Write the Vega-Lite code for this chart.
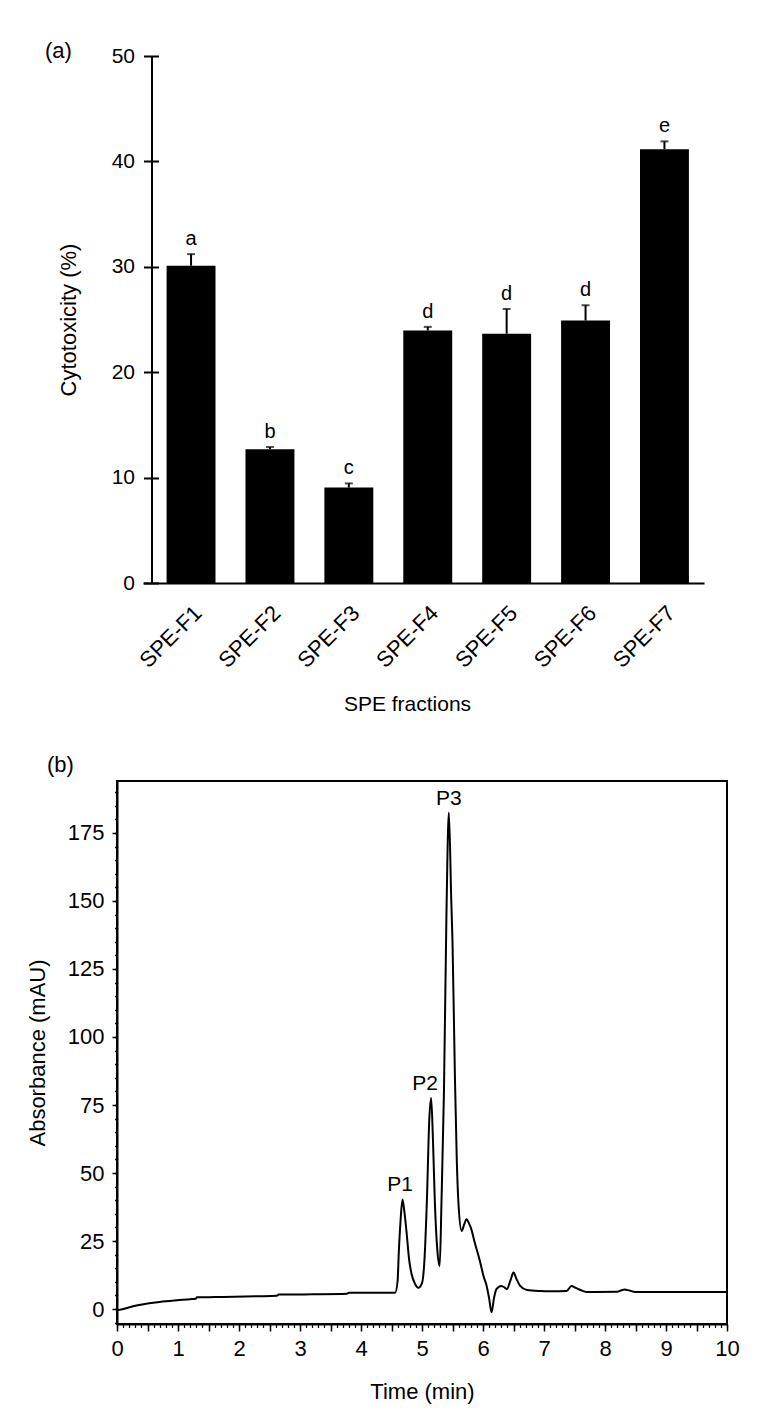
{
  "$schema": "https://vega.github.io/schema/vega-lite/v6.json",
  "padding": {"left": 25, "top": 40, "right": 5, "bottom": 5},
  "background": "white",
  "config": {
    "font": "Liberation Sans",
    "axis": {"labelColor": "black", "titleColor": "black", "domainColor": "black", "tickColor": "black", "grid": false, "labelFontWeight": "normal", "titleFontWeight": "normal"},
    "title": {"color": "black", "fontWeight": "normal"}
  },
  "spacing": 38,
  "vconcat": [
    {
      "width": 587,
      "height": 527,
      "view": {"stroke": null},
      "title": {"text": "(a)", "anchor": "start", "frame": "group", "dx": -72, "dy": 22, "fontSize": 22},
      "data": {"values": [
        {"fraction": "SPE-F1", "mean": 30.1, "high": 31.2, "letter": "a"},
        {"fraction": "SPE-F2", "mean": 12.7, "high": 12.9, "letter": "b"},
        {"fraction": "SPE-F3", "mean": 9.05, "high": 9.45, "letter": "c"},
        {"fraction": "SPE-F4", "mean": 23.95, "high": 24.3, "letter": "d"},
        {"fraction": "SPE-F5", "mean": 23.65, "high": 26.0, "letter": "d"},
        {"fraction": "SPE-F6", "mean": 24.9, "high": 26.35, "letter": "d"},
        {"fraction": "SPE-F7", "mean": 41.15, "high": 41.9, "letter": "e"}
      ]},
      "encoding": {
        "x": {"field": "fraction", "type": "nominal", "sort": null,
          "scale": {"range": [26, 587], "paddingInner": 0.38, "paddingOuter": 0.245, "align": 0.61}}
      },
      "layer": [
        {
          "mark": {"type": "bar", "color": "black"},
          "encoding": {
            "x": {"field": "fraction", "type": "nominal", "sort": null,
              "axis": {"labelAngle": -45, "labelAlign": "right", "labelBaseline": "top", "labelPadding": 19, "labelOffset": 0, "ticks": false, "domainWidth": 2, "labelFontSize": 22, "title": "SPE fractions", "titleFontSize": 21, "titlePadding": 22, "titleX": 290}},
            "y": {"field": "mean", "type": "quantitative", "scale": {"domain": [0, 50], "nice": false},
              "axis": {"orient": "left", "values": [0, 10, 20, 30, 40, 50], "offset": -34.5, "tickSize": 8, "tickWidth": 2, "domainWidth": 2, "labelFontSize": 21, "labelPadding": 9, "title": "Cytotoxicity (%)", "titleFontSize": 22, "titlePadding": 31, "labelFlush": false}}
          }
        },
        {
          "mark": {"type": "rule", "color": "black", "strokeWidth": 2},
          "encoding": {
            "y": {"field": "mean", "type": "quantitative",
              "axis": {"orient": "left", "values": [0, 10, 20, 30, 40, 50], "offset": -34.5, "tickSize": -7, "tickWidth": 2, "domain": false, "labels": false, "title": null}},
            "y2": {"field": "high"}
          }
        },
        {
          "mark": {"type": "tick", "color": "black", "thickness": 2, "size": 8, "orient": "horizontal"},
          "encoding": {"y": {"field": "high", "type": "quantitative", "axis": null}}
        },
        {
          "mark": {"type": "text", "color": "black", "fontSize": 20, "baseline": "alphabetic", "dy": -9},
          "encoding": {
            "y": {"field": "high", "type": "quantitative", "axis": null},
            "text": {"field": "letter"}
          }
        }
      ],
      "resolve": {"axis": {"y": "independent"}}
    },
    {
      "width": 610,
      "height": 543,
      "view": {"stroke": "black", "strokeWidth": 2},
      "title": {"text": "(b)", "anchor": "start", "frame": "group", "dx": -70, "fontSize": 22, "offset": 4},
      "layer": [
        {
          "data": {"values": [
            {"t": 0, "v": -0.5}, {"t": 0.15, "v": 0.3}, {"t": 0.32, "v": 1.3}, {"t": 0.5, "v": 2.0},
            {"t": 0.7, "v": 2.6}, {"t": 0.98, "v": 3.2}, {"t": 1.2, "v": 3.6}, {"t": 1.29, "v": 3.8},
            {"t": 1.31, "v": 4.3}, {"t": 1.6, "v": 4.4}, {"t": 1.92, "v": 4.5}, {"t": 2.3, "v": 4.7},
            {"t": 2.62, "v": 4.9}, {"t": 2.65, "v": 5.3}, {"t": 3.2, "v": 5.4}, {"t": 3.77, "v": 5.6},
            {"t": 3.8, "v": 6.0}, {"t": 4.3, "v": 6.0}, {"t": 4.56, "v": 6.0}, {"t": 4.6, "v": 10.3},
            {"t": 4.62, "v": 21}, {"t": 4.65, "v": 33}, {"t": 4.68, "v": 40.3}, {"t": 4.71, "v": 36},
            {"t": 4.75, "v": 27.5}, {"t": 4.79, "v": 18}, {"t": 4.83, "v": 12.8}, {"t": 4.88, "v": 9.5},
            {"t": 4.94, "v": 7.8}, {"t": 5.0, "v": 9.5}, {"t": 5.04, "v": 18}, {"t": 5.08, "v": 39.7},
            {"t": 5.12, "v": 70}, {"t": 5.15, "v": 77.6}, {"t": 5.18, "v": 62}, {"t": 5.21, "v": 39.7},
            {"t": 5.25, "v": 22}, {"t": 5.29, "v": 15.8}, {"t": 5.32, "v": 40}, {"t": 5.36, "v": 80},
            {"t": 5.4, "v": 144}, {"t": 5.44, "v": 182.5}, {"t": 5.48, "v": 150}, {"t": 5.5, "v": 135},
            {"t": 5.54, "v": 85}, {"t": 5.57, "v": 55}, {"t": 5.6, "v": 38}, {"t": 5.65, "v": 28.7},
            {"t": 5.69, "v": 31}, {"t": 5.73, "v": 33}, {"t": 5.77, "v": 31.5}, {"t": 5.8, "v": 29.9},
            {"t": 5.87, "v": 24}, {"t": 5.95, "v": 17.6}, {"t": 6.01, "v": 12}, {"t": 6.06, "v": 8.5},
            {"t": 6.1, "v": 4}, {"t": 6.14, "v": -1.2}, {"t": 6.18, "v": 4}, {"t": 6.22, "v": 7.3},
            {"t": 6.3, "v": 8.5}, {"t": 6.36, "v": 7.8}, {"t": 6.39, "v": 7.3}, {"t": 6.45, "v": 10.5},
            {"t": 6.5, "v": 13.4}, {"t": 6.55, "v": 11}, {"t": 6.61, "v": 8.5}, {"t": 6.72, "v": 7.0},
            {"t": 6.94, "v": 6.6}, {"t": 7.1, "v": 6.5}, {"t": 7.37, "v": 6.6}, {"t": 7.45, "v": 8.5},
            {"t": 7.52, "v": 7.8}, {"t": 7.6, "v": 7.0}, {"t": 7.7, "v": 6.3}, {"t": 8.2, "v": 6.4},
            {"t": 8.27, "v": 6.9}, {"t": 8.32, "v": 7.2}, {"t": 8.4, "v": 6.8}, {"t": 8.5, "v": 6.3},
            {"t": 10, "v": 6.3}
          ]},
          "mark": {"type": "line", "color": "black", "strokeWidth": 2, "interpolate": "monotone"},
          "encoding": {
            "x": {"field": "t", "type": "quantitative", "scale": {"domain": [0, 10], "nice": false},
              "axis": {"orient": "bottom", "values": [0, 0.5, 1, 1.5, 2, 2.5, 3, 3.5, 4, 4.5, 5, 5.5, 6, 6.5, 7, 7.5, 8, 8.5, 9, 9.5, 10],
                "labelExpr": "datum.value % 1 == 0 ? format(datum.value, 'd') : ''", "labelOverlap": false, "labelFlush": false,
                "tickSize": 7, "tickWidth": 1.5, "domainWidth": 2, "labelFontSize": 22, "labelPadding": 7,
                "title": "Time (min)", "titleFontSize": 22, "titlePadding": 22}},
            "y": {"field": "v", "type": "quantitative", "scale": {"domain": [-5.5, 194.1], "nice": false, "zero": false},
              "axis": {"orient": "left", "values": [0, 25, 50, 75, 100, 125, 150, 175], "tickSize": 5, "tickWidth": 1.5, "domainWidth": 2,
                "labelFontSize": 22, "labelPadding": 8, "labelFlush": false, "labelOverlap": false,
                "title": "Absorbance (mAU)", "titleFontSize": 22, "titlePadding": 18}}
          }
        },
        {
          "data": {"values": [
            {"t": 4.64, "v": 40.3, "label": "P1"},
            {"t": 5.05, "v": 77.6, "label": "P2"},
            {"t": 5.44, "v": 182.5, "label": "P3"}
          ]},
          "mark": {"type": "text", "color": "black", "fontSize": 21, "baseline": "alphabetic", "dy": -8},
          "encoding": {
            "x": {"field": "t", "type": "quantitative",
              "axis": {"orient": "bottom", "values": [0,0.1,0.2,0.3,0.4,0.5,0.6,0.7,0.8,0.9,1,1.1,1.2,1.3,1.4,1.5,1.6,1.7,1.8,1.9,2,2.1,2.2,2.3,2.4,2.5,2.6,2.7,2.8,2.9,3,3.1,3.2,3.3,3.4,3.5,3.6,3.7,3.8,3.9,4,4.1,4.2,4.3,4.4,4.5,4.6,4.7,4.8,4.9,5,5.1,5.2,5.3,5.4,5.5,5.6,5.7,5.8,5.9,6,6.1,6.2,6.3,6.4,6.5,6.6,6.7,6.8,6.9,7,7.1,7.2,7.3,7.4,7.5,7.6,7.7,7.8,7.9,8,8.1,8.2,8.3,8.4,8.5,8.6,8.7,8.8,8.9,9,9.1,9.2,9.3,9.4,9.5,9.6,9.7,9.8,9.9,10],
                "tickSize": 3.5, "tickWidth": 1.2, "labels": false, "domain": false, "title": null}},
            "y": {"field": "v", "type": "quantitative",
              "axis": {"orient": "left", "values": [-5,0,5,10,15,20,25,30,35,40,45,50,55,60,65,70,75,80,85,90,95,100,105,110,115,120,125,130,135,140,145,150,155,160,165,170,175,180,185,190],
                "tickSize": 2.5, "tickWidth": 1.5, "labels": false, "domain": false, "title": null}},
            "text": {"field": "label"}
          }
        }
      ],
      "resolve": {"axis": {"x": "independent", "y": "independent"}}
    }
  ]
}
